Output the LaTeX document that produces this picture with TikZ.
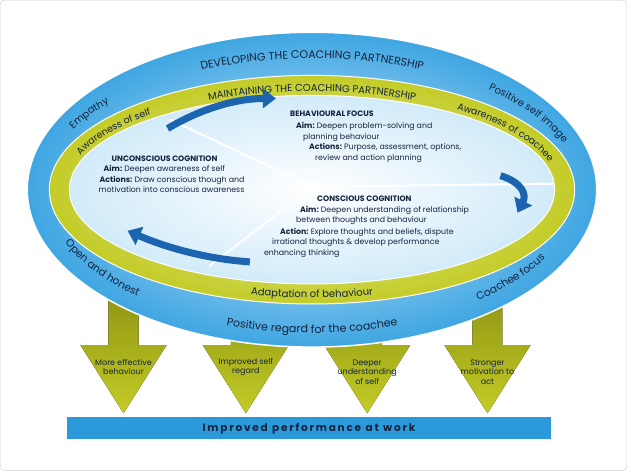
\documentclass[tikz,border=0pt]{standalone}
\usepackage{fontspec}
\setmainfont{Poppins}
\usetikzlibrary{arrows.meta, decorations.text}
\definecolor{ringblue}{HTML}{3FA6E2}
\definecolor{paleblue}{HTML}{D2EBF9}
\definecolor{ringgreen}{HTML}{C3CC27}
\definecolor{darkgreen}{HTML}{8E9412}
\definecolor{flowblue}{HTML}{1C63B0}
\definecolor{barblue}{HTML}{2C9ADA}
\definecolor{navy}{HTML}{14233F}

\begin{document}
\begin{tikzpicture}[x=1pt, y=1pt,
    inner/.style={font=\fontsize{7.8}{8}\selectfont, text=navy, inner sep=0pt},
    outcome/.style={font=\fontsize{8}{9.5}\selectfont, text=navy, align=center},
    downarrow/.style={top color=darkgreen, bottom color=ringgreen, draw=none},
    ringtext/.style 2 args={decorate, decoration={text along path, text align=center,
        text={|\fontsize{#1}{#1}\selectfont\color{navy}|#2}}},
    flow/.style={line width=7pt, flowblue, -{Triangle[width=19pt, length=13pt]}}]
    % frame
    \draw[gray!40, fill=white, rounded corners=4pt] (1,1) rectangle (626,470);

    % outcome arrows
    \foreach \x in {124, 246, 367, 487}
        \fill[downarrow] (\x-15,180) -- (\x+15,180) -- (\x+15,126) -- (\x+43,126)
            -- (\x,58) -- (\x-43,126) -- (\x-15,126) -- cycle;
    \node[outcome] (effective) at (124,104) {More effective\\behaviour};
    \node[outcome] (selfregard) at (246,104) {Improved self\\regard};
    \node[outcome] (understanding) at (367,99) {Deeper\\understanding\\of self};
    \node[outcome] (motivation) at (487,99) {Stronger\\motivation to\\act};

    % bar
    \node[fill=barblue, minimum width=482pt, minimum height=22pt, inner sep=0pt,
        font=\bfseries\fontsize{10.5}{11}\selectfont, text=navy] (performance) at (309,43)
        {I\,m\,p\,r\,o\,v\,e\,d\ \ p\,e\,r\,f\,o\,r\,m\,a\,n\,c\,e\ \ a\,t\ \ w\,o\,r\,k};

    % rings
    \coordinate (c) at (312,281);
    \shade[inner color=paleblue, outer color=ringblue, draw=white, line width=1.5pt]
        (c) ellipse[x radius=284, y radius=157];
    \shade[inner color=ringgreen!35!white, outer color=ringgreen, draw=white, line width=1pt]
        (c) ellipse[x radius=262, y radius=114];
    \shade[inner color=white, outer color=paleblue, draw=white, line width=1pt]
        (c) ellipse[x radius=242, y radius=94];
    \begin{scope}
        \clip (c) ellipse[x radius=241, y radius=93];
        \draw[white, line width=2pt] (170,351) -- (313,284) -- (560,287);
        \draw[white, line width=2pt] (313,284) -- (210,205);
    \end{scope}

    % ring labels
    \path[ringtext={11}{DEVELOPING THE COACHING PARTNERSHIP}] (c) ++(150:268 and 131)
        arc[start angle=150, end angle=30, x radius=268, y radius=131];
    \path[ringtext={10}{Empathy}] (c) ++(162:268 and 132)
        arc[start angle=162, end angle=132, x radius=268, y radius=132];
    \path[ringtext={10}{Positive self image}] (c) ++(52:268 and 132)
        arc[start angle=52, end angle=16, x radius=268, y radius=132];
    \path[ringtext={10.5}{Open and honest}] (c) ++(192:266 and 141)
        arc[start angle=192, end angle=236, x radius=266, y radius=141];
    \path[ringtext={10.5}{Coachee focus}] (c) ++(302:266 and 141)
        arc[start angle=302, end angle=340, x radius=266, y radius=141];
    \path[ringtext={11}{Positive regard for the coachee}] (c) ++(238:266 and 143)
        arc[start angle=238, end angle=302, x radius=266, y radius=143];
    \path[ringtext={10}{MAINTAINING THE COACHING PARTNERSHIP}] (c) ++(135:246 and 98)
        arc[start angle=135, end angle=45, x radius=246, y radius=98];
    \path[ringtext={9.5}{Awareness of self}] (c) ++(172:246 and 99)
        arc[start angle=172, end angle=124, x radius=246, y radius=99];
    \path[ringtext={9.5}{Awareness of coachee}] (c) ++(60:246 and 99)
        arc[start angle=60, end angle=4, x radius=246, y radius=99];
    \path[ringtext={10}{Adaptation of behaviour}] (c) ++(245:248 and 108)
        arc[start angle=245, end angle=295, x radius=248, y radius=108];

    % flow arrows
    \draw[flow] (168,342) .. controls (205,364) and (240,372) .. (276,372);
    \draw[flow] (500,295) .. controls (522,288) and (526,276) .. (517,258);
    \draw[flow] (250,209) .. controls (205,212) and (165,224) .. (128,240);

    % inner text
    \foreach \x / \y / \t [count=\i] in {
        290/354/{\bfseries BEHAVIOURAL FOCUS},
        296/342/{\bfseries Aim: \mdseries Deepen problem-solving and},
        303/331/{planning behaviour},
        309/321/{\bfseries Actions: \mdseries Purpose, assessment, options,},
        315/310/{review and action planning},
        112/309/{\bfseries UNCONSCIOUS COGNITION},
        104/299/{\bfseries Aim: \mdseries Deepen awareness of self},
        100/288/{\bfseries Actions: \mdseries Draw conscious though and},
        99/278/{motivation into conscious awareness},
        317/269/{\bfseries CONSCIOUS COGNITION},
        300/258/{\bfseries Aim: \mdseries Deepen understanding of relationship},
        296/248/{between thoughts and behaviour},
        280/236/{\bfseries Action: \mdseries Explore thoughts and beliefs, dispute},
        272/226/{irrational thoughts \& develop performance},
        264/215/{enhancing thinking}}
        \node[inner, anchor=base west] (line\i) at (\x,\y) {\t};
\end{tikzpicture}
\end{document}
